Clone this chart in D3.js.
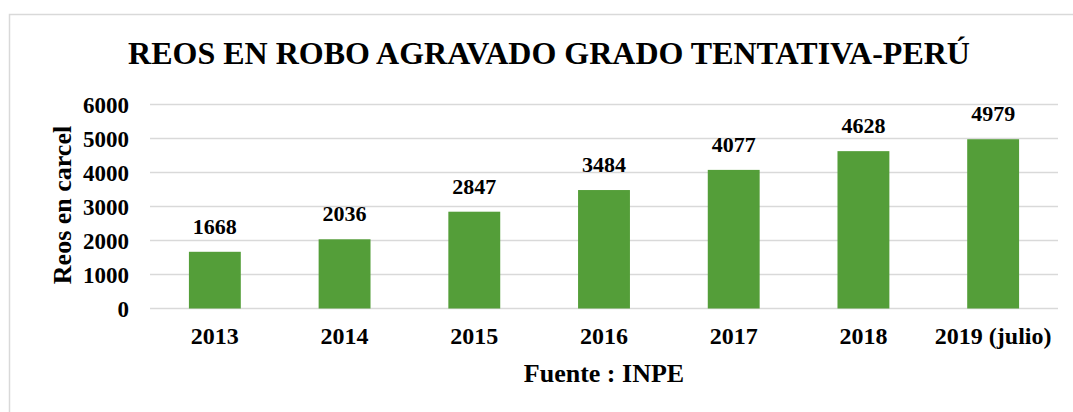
<!DOCTYPE html>
<html>
<head>
<meta charset="utf-8">
<script src="https://cdn.jsdelivr.net/npm/d3@7"></script>
<style>
  body { margin: 0; background: #fff; }
  text { font-family: "Liberation Serif", "Times New Roman", serif; font-weight: bold; fill: #000; }
</style>
</head>
<body>
<script>
// Chart data
let years = ["2013", "2014", "2015", "2016", "2017", "2018", "2019 (julio)"];
let reos = [1668, 2036, 2847, 3484, 4077, 4628, 4979];
let yTicks = [0, 1000, 2000, 3000, 4000, 5000, 6000];

let svgWidth = 1073;
let svgHeight = 412;

let margin = { top: 104.5, right: 15, bottom: 103.5, left: 150 };
let width = svgWidth - margin.left - margin.right;
let height = svgHeight - margin.top - margin.bottom;

let svg = d3.select("body")
    .append("svg")
    .attr("width", svgWidth)
    .attr("height", svgHeight);

// chart frame
svg.append("rect")
    .attr("x", 9.5)
    .attr("y", 14.5)
    .attr("width", svgWidth)
    .attr("height", svgHeight)
    .attr("fill", "none")
    .attr("stroke", "#d9d9d9")
    .attr("stroke-width", 1.5);

let chartGroup = svg.append("g")
    .attr("transform", `translate(${margin.left}, ${margin.top})`);

let xScale = d3.scaleBand()
    .domain(years)
    .range([0, width])
    .paddingInner(0.6)
    .paddingOuter(0.3);

let yScale = d3.scaleLinear()
    .domain([0, 6000])
    .range([height, 0]);

// gridlines
chartGroup.selectAll(".grid")
    .data(yTicks)
    .enter()
    .append("line")
    .attr("x1", 0)
    .attr("x2", width)
    .attr("y1", d => yScale(d))
    .attr("y2", d => yScale(d))
    .attr("stroke", "#d9d9d9")
    .attr("stroke-width", 1.3);

// y axis
let yAxis = d3.axisLeft(yScale).tickValues(yTicks).tickFormat(d3.format("d")).tickSize(0).tickPadding(21);
chartGroup.append("g")
    .call(yAxis)
    .call(g => g.select(".domain").remove())
    .selectAll("text")
    .style("font-size", "23px")
    .attr("dy", "0.34em");

// x axis
let xAxis = d3.axisBottom(xScale).tickSize(0).tickPadding(18);
chartGroup.append("g")
    .attr("transform", `translate(0, ${height})`)
    .call(xAxis)
    .call(g => g.select(".domain").remove())
    .selectAll("text")
    .style("font-size", "24px");

// bars
chartGroup.selectAll(".bar")
    .data(reos)
    .enter()
    .append("rect")
    .attr("x", (d, i) => xScale(years[i]))
    .attr("y", d => yScale(d))
    .attr("width", xScale.bandwidth())
    .attr("height", d => height - yScale(d))
    .attr("fill", "#549e39");

// value labels
chartGroup.selectAll(".val")
    .data(reos)
    .enter()
    .append("text")
    .attr("x", (d, i) => xScale(years[i]) + xScale.bandwidth() / 2)
    .attr("y", d => yScale(d) - 18)
    .attr("text-anchor", "middle")
    .style("font-size", "22px")
    .text(d => d);

// title
svg.append("text")
    .attr("x", 549)
    .attr("y", 64)
    .attr("text-anchor", "middle")
    .style("font-size", "32px")
    .text("REOS EN ROBO AGRAVADO GRADO TENTATIVA-PERÚ");

// axis labels
svg.append("text")
    .attr("transform", `translate(71, 205) rotate(-90)`)
    .attr("text-anchor", "middle")
    .style("font-size", "26px")
    .text("Reos en carcel");

svg.append("text")
    .attr("x", 604)
    .attr("y", 382)
    .attr("text-anchor", "middle")
    .style("font-size", "26px")
    .text("Fuente : INPE");
</script>
</body>
</html>
